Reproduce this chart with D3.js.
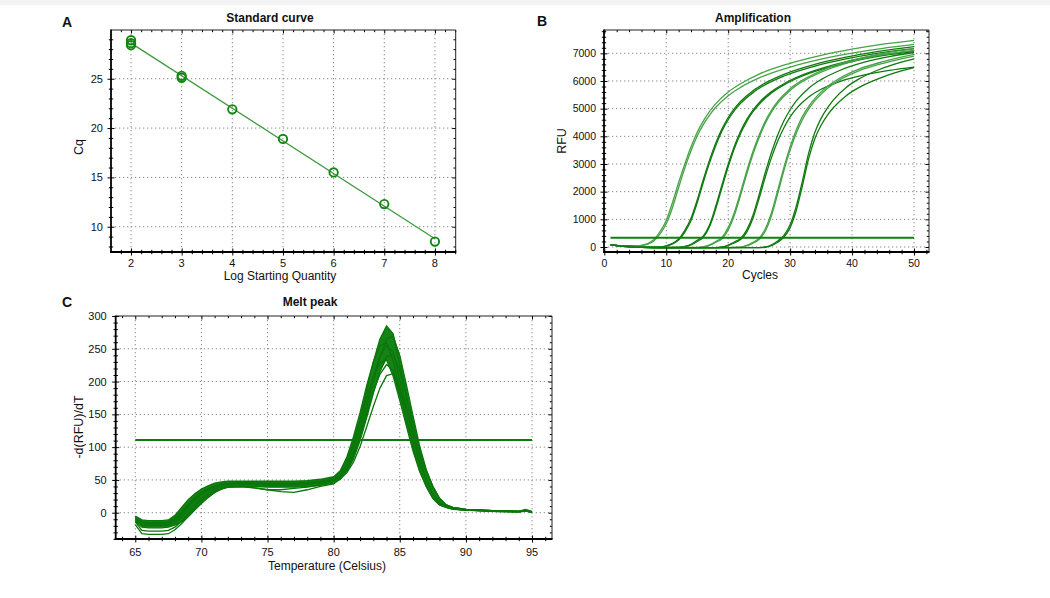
<!DOCTYPE html>
<html><head><meta charset="utf-8">
<script src="https://cdn.jsdelivr.net/npm/d3@7"></script>
<style>
body{margin:0;background:#fff;}
text{font-family:"Liberation Sans",Arial,sans-serif;fill:#111;}
</style></head><body>
<svg id="chart" width="1050" height="598"></svg>
<script>
// ---------- Panel A: standard curve ----------
const stdLogQty = [2, 2, 2, 3, 3, 4, 5, 6, 7, 8];
const stdCq = [28.9, 28.6, 28.4, 25.3, 25.1, 21.9, 18.9, 15.5, 12.3, 8.5];
const stdXTicks = [2, 3, 4, 5, 6, 7, 8];
const stdYTicks = [10, 15, 20, 25];

// ---------- Panel B: amplification ----------
const ampThreshold = 330;
const ampXTicks = [0, 10, 20, 30, 40, 50];
const ampYTicks = [0, 1000, 2000, 3000, 4000, 5000, 6000, 7000];
const ampGroupOfCurve = [0,0,1,1,2,2,3,3,4,4,5,5,6,6];
const ampCurves = [
 [[1,80],[3,45],[5,40],[6,60],[7,120],[8,270],[9,560],[10,960],[11,1600],[12,2330],[13,3000],[14,3620],[15,4150],[16,4560],[17,4900],[18,5180],[20,5600],[22,5900],[25,6250],[30,6640],[35,6930],[40,7150],[45,7330],[50,7470]],
 [[1,85],[3,45],[5,35],[6,50],[7,100],[8,220],[9,470],[10,840],[11,1420],[12,2150],[13,2850],[14,3480],[15,4010],[16,4430],[17,4770],[18,5050],[20,5470],[22,5770],[25,6110],[30,6500],[35,6790],[40,7010],[45,7180],[50,7320]],
 [[1,80],[3,40],[5,15],[7,0],[9,5],[10,40],[11,130],[12,290],[13,600],[14,1040],[15,1700],[16,2450],[17,3150],[18,3760],[19,4270],[20,4680],[21,5000],[22,5260],[24,5650],[26,5930],[29,6240],[34,6600],[39,6860],[44,7060],[50,7240]],
 [[1,75],[3,35],[5,10],[7,-5],[9,0],[10,30],[11,110],[12,250],[13,540],[14,960],[15,1600],[16,2350],[17,3050],[18,3670],[19,4190],[20,4600],[21,4930],[22,5190],[24,5580],[26,5870],[29,6180],[34,6540],[39,6800],[44,7000],[50,7170]],
 [[1,80],[3,35],[6,0],[9,-15],[12,-10],[13,20],[14,100],[15,240],[16,400],[17,800],[18,1480],[19,2250],[20,2990],[21,3640],[22,4180],[23,4610],[24,4950],[25,5220],[27,5620],[29,5900],[32,6220],[37,6580],[42,6840],[46,6990],[50,7100]],
 [[1,75],[3,30],[6,-5],[9,-20],[12,-15],[13,10],[14,80],[15,200],[16,360],[17,740],[18,1380],[19,2150],[20,2900],[21,3560],[22,4100],[23,4540],[24,4890],[25,5160],[27,5570],[29,5860],[32,6180],[37,6540],[42,6800],[46,6950],[50,7060]],
 [[1,80],[3,35],[6,-5],[10,-20],[15,-15],[16,10],[17,80],[18,200],[19,350],[20,700],[21,1250],[22,1980],[23,2750],[24,3450],[25,4050],[26,4550],[27,4950],[28,5260],[30,5720],[32,6030],[35,6370],[40,6750],[45,7000],[50,7160]],
 [[1,75],[3,30],[6,-10],[10,-25],[15,-20],[16,0],[17,60],[18,170],[19,300],[20,620],[21,1150],[22,1870],[23,2640],[24,3350],[25,3960],[26,4470],[27,4880],[28,5200],[30,5660],[32,5980],[35,6320],[40,6700],[45,6950],[50,7100]],
 [[1,80],[3,30],[6,-10],[10,-25],[18,-20],[19,0],[20,70],[21,180],[22,310],[23,620],[24,1150],[25,1900],[26,2700],[27,3430],[28,4050],[29,4560],[30,4960],[31,5280],[33,5740],[35,6050],[38,6380],[42,6680],[46,6880],[50,7030]],
 [[1,75],[3,25],[6,-15],[10,-25],[18,-20],[19,-5],[20,50],[21,150],[22,270],[23,540],[24,1040],[25,1760],[26,2540],[27,3240],[28,3830],[29,4310],[30,4700],[31,5000],[33,5420],[35,5700],[38,5980],[42,6220],[46,6380],[50,6500]],
 [[1,80],[3,30],[6,-10],[10,-25],[20,-20],[22,-5],[23,60],[24,170],[25,320],[26,660],[27,1250],[28,2050],[29,2880],[30,3620],[31,4240],[32,4720],[33,5080],[34,5370],[36,5800],[38,6100],[41,6420],[45,6700],[50,6960]],
 [[1,75],[3,25],[6,-15],[10,-30],[20,-25],[22,-10],[23,40],[24,140],[25,270],[26,580],[27,1140],[28,1930],[29,2760],[30,3500],[31,4120],[32,4610],[33,4990],[34,5290],[36,5730],[38,6040],[41,6360],[45,6640],[50,6900]],
 [[1,80],[3,30],[6,-10],[10,-25],[25,-20],[26,0],[27,80],[28,220],[29,420],[30,800],[31,1480],[32,2400],[33,3400],[34,4150],[35,4650],[36,5020],[37,5320],[39,5760],[41,6060],[44,6380],[47,6620],[50,6800]],
 [[1,75],[3,25],[6,-15],[10,-30],[25,-25],[26,-10],[27,50],[28,170],[29,360],[30,700],[31,1330],[32,2230],[33,3200],[34,3920],[35,4400],[36,4760],[37,5040],[39,5460],[41,5750],[44,6060],[47,6300],[50,6480]]
];

// ---------- Panel C: melt peak ----------
const meltThreshold = 111;
const meltXTicks = [65, 70, 75, 80, 85, 90, 95];
const meltYTicks = [0, 50, 100, 150, 200, 250, 300];
const meltTemps = [65,65.5,66,67,67.5,68,68.5,69,69.5,70,70.5,71,71.5,72,73,74,75,76,77,78,79,
                   80,80.5,81,81.5,82,82.5,83,83.5,84,84.5,85,85.5,86,86.5,87,87.5,88,88.5,89,
                   90,92,94,94.5,95];
const meltCurves = [
 [-6,-14,-15,-15,-14,-8,2,13,23,31,37,41,44,45,46,46,45,45,45,46,48,
  50,58,74,103,142,185,230,265,285,273,224,179,126,83,50,29,15,9,6, 4,3,2,4,1],
 [-10,-19,-20,-20,-19,-15,-7,3,13,22,30,36,40,42,43,43,42,42,42,43,45,
  49,54,65,86,119,158,200,238,265,269,240,195,148,102,66,40,22,12,8, 5,3,2,3,1],
 [-5,-11,-12,-12,-11,-4,8,20,29,36,41,45,47,48,48,48,48,48,48,49,51,
  55,64,85,116,153,194,230,255,259,231,188,144,100,65,40,22,12,8,6, 4,3,2,5,2],
 [-8,-17,-18,-18,-17,-12,-3,8,18,27,34,39,42,43,44,44,43,43,43,44,46,
  50,57,70,96,130,168,207,238,255,245,202,163,117,79,50,29,15,9,6, 4,2,1,3,0],
 [-13,-22,-23,-23,-22,-19,-14,-6,4,14,23,31,36,39,40,40,39,39,39,40,42,
  47,53,63,82,110,145,182,215,238,241,216,177,136,96,64,40,22,12,8, 5,3,2,4,1],
 [-7,-15,-16,-16,-15,-10,0,11,21,30,36,40,43,44,45,45,44,44,44,45,47,
  53,63,81,108,141,176,207,229,233,208,171,132,94,63,40,22,12,8,5, 4,2,1,3,0]
];
const meltOutlierCurves = [
 [-14,-27,-28,-28,-27,-22,-13,-2,9,19,27,33,37,39,40,38,35,32,31,35,40,
  44,52,66,90,119,151,185,211,226,217,180,147,107,75,50,29,15,9,6, 4,3,2,3,1],
 [-18,-32,-33,-33,-32,-26,-17,-6,5,15,24,31,36,39,40,38,35,35,37,39,42,
  45,51,61,77,101,131,162,190,209,212,191,157,123,89,62,40,22,12,8, 5,3,2,4,1]
];

// ---------- drawing ----------
const svg = d3.select('#chart');
svg.append('rect').attr('x',0).attr('y',0).attr('width',1050).attr('height',5).attr('fill','#f3f3f3');

function makePanel(p){
  const x = d3.scaleLinear().domain(p.xd).range([p.l, p.r]);
  const y = d3.scaleLinear().domain(p.yd).range([p.b, p.t]);
  const g = svg.append('g');
  g.append('rect').attr('x',p.l).attr('y',p.t).attr('width',p.r-p.l).attr('height',p.b-p.t).attr('fill','#fff');
  const id = 'clip' + p.name;
  svg.append('clipPath').attr('id',id).append('rect')
    .attr('x',p.l).attr('y',p.t).attr('width',p.r-p.l).attr('height',p.b-p.t);
  const gridStyle = s => s.attr('stroke','#8a8a8a').attr('stroke-width',1).attr('stroke-dasharray','1.3,2.7');
  g.append('g').selectAll('line').data(p.xGrid).join('line')
    .attr('x1',d=>x(d)).attr('x2',d=>x(d)).attr('y1',p.t).attr('y2',p.b).call(gridStyle);
  g.append('g').selectAll('line').data(p.yGrid).join('line')
    .attr('y1',d=>y(d)).attr('y2',d=>y(d)).attr('x1',p.l).attr('x2',p.r).call(gridStyle);
  const plot = g.append('g').attr('clip-path',`url(#${id})`);
  return {x, y, g, plot, p};
}

function tickSet(g, axisFn, scale, vals, size, tr){
  g.append('g').attr('transform', tr)
    .call(axisFn(scale).tickValues(vals).tickSize(size).tickFormat(''))
    .call(s => s.select('.domain').remove())
    .selectAll('line').attr('stroke','#000').attr('stroke-width',1);
}

function finishPanel(P, o){
  const {x, y, g, p} = P;
  const minorX = o.xMinor.filter(v => !o.xMajor.includes(v));
  const minorY = o.yMinor.filter(v => !o.yMajor.includes(v));
  tickSet(g, d3.axisBottom, x, o.xMajor, 3.5, `translate(0,${p.b})`);
  tickSet(g, d3.axisTop, x, o.xMajor, 3.5, `translate(0,${p.b})`);
  tickSet(g, d3.axisBottom, x, minorX, 2.2, `translate(0,${p.b})`);
  tickSet(g, d3.axisTop, x, minorX, 2.2, `translate(0,${p.b})`);
  tickSet(g, d3.axisLeft, y, o.yMajor, 3.5, `translate(${p.l},0)`);
  tickSet(g, d3.axisRight, y, o.yMajor, 3.5, `translate(${p.l},0)`);
  tickSet(g, d3.axisLeft, y, minorY, 2.2, `translate(${p.l},0)`);
  tickSet(g, d3.axisRight, y, minorY, 2.2, `translate(${p.l},0)`);
  tickSet(g, d3.axisBottom, x, o.xMajor, 3.5, `translate(0,${p.t})`);
  tickSet(g, d3.axisBottom, x, minorX, 2.2, `translate(0,${p.t})`);
  tickSet(g, d3.axisLeft, y, o.yMajor, 3.5, `translate(${p.r},0)`);
  tickSet(g, d3.axisLeft, y, minorY, 2.2, `translate(${p.r},0)`);
  g.append('line').attr('x1',p.l).attr('x2',p.r).attr('y1',p.t).attr('y2',p.t).attr('stroke','#222').attr('stroke-width',1);
  g.append('line').attr('x1',p.r).attr('x2',p.r).attr('y1',p.t).attr('y2',p.b).attr('stroke','#222').attr('stroke-width',1);
  g.append('line').attr('x1',p.l).attr('x2',p.l).attr('y1',p.t-0.5).attr('y2',p.b+0.8).attr('stroke','#000').attr('stroke-width',1.8);
  g.append('line').attr('x1',p.l-0.9).attr('x2',p.r+0.5).attr('y1',p.b).attr('y2',p.b).attr('stroke','#000').attr('stroke-width',1.8);
  g.append('g').selectAll('text').data(o.xMajor).join('text')
    .attr('x',d=>x(d)).attr('y',o.xLabelY).attr('text-anchor','middle')
    .attr('font-size',o.tickFont).text(d=>d);
  g.append('g').selectAll('text').data(o.yMajor).join('text')
    .attr('x',p.l-o.yLabelGap).attr('y',d=>y(d)).attr('dy','0.36em').attr('text-anchor','end')
    .attr('font-size',o.tickFont).text(d=>d);
  g.append('text').attr('x',o.titleX).attr('y',o.titleY).attr('text-anchor','middle')
    .attr('font-size',12).attr('font-weight','bold').text(o.title);
  g.append('text').attr('x',o.letterX).attr('y',o.letterY)
    .attr('font-size',14).attr('font-weight','bold').text(o.letter);
  g.append('text').attr('x',o.xTitleX).attr('y',o.xTitleY).attr('text-anchor','middle')
    .attr('font-size',12).text(o.xTitle);
  g.append('text').attr('transform',`translate(${o.yTitleX},${o.yTitleY}) rotate(-90)`)
    .attr('text-anchor','middle').attr('font-size',12.5).text(o.yTitle);
}

// ----- Panel A -----
{
  const P = makePanel({name:'A', l:111, t:30, r:455.7, b:252, xd:[1.605, 8.41], yd:[7.44, 29.94],
                       xGrid: stdXTicks, yGrid: stdYTicks});
  const {x, y, plot} = P;
  const mx = d3.mean(stdLogQty), my = d3.mean(stdCq);
  const sxy = d3.sum(stdLogQty, (v,i) => (v-mx)*(stdCq[i]-my));
  const sxx = d3.sum(stdLogQty, v => (v-mx)*(v-mx));
  const slope = sxy/sxx, icpt = my - slope*mx;
  const ext = d3.extent(stdLogQty);
  plot.append('path').datum(ext.map(v => [v, icpt + slope*v]))
    .attr('d', d3.line().x(d=>x(d[0])).y(d=>y(d[1])))
    .attr('fill','none').attr('stroke','#3a983a').attr('stroke-width',1.2);
  plot.selectAll('circle').data(stdLogQty).join('circle')
    .attr('cx',(d)=>x(d)).attr('cy',(d,i)=>y(stdCq[i])).attr('r',4.2)
    .attr('fill','none').attr('stroke','#118811').attr('stroke-width',1.9);
  finishPanel(P, {
    xMajor: stdXTicks, xMinor: d3.range(1.8, 8.41, 0.2).map(v=>+v.toFixed(1)),
    yMajor: stdYTicks, yMinor: d3.range(8, 29.95, 1),
    xLabelY: 267, yLabelGap: 8, tickFont: 11,
    title: 'Standard curve', titleX: 270, titleY: 22, letter: 'A', letterX: 62, letterY: 27,
    xTitle: 'Log Starting Quantity', xTitleX: 280, xTitleY: 280,
    yTitle: 'Cq', yTitleX: 83, yTitleY: 147
  });
}

// ----- Panel B -----
{
  const P = makePanel({name:'B', l:604, t:30, r:929, b:252, xd:[-0.05, 52.42], yd:[-181, 7843],
                       xGrid: ampXTicks.slice(1), yGrid: ampYTicks});
  const {x, y, plot} = P;
  const lightGroups = new Set([0, 3, 5]);
  const line = d3.line().x(d=>x(d[0])).y(d=>y(d[1])).curve(d3.curveMonotoneX);
  plot.selectAll('path.amp').data(ampCurves).join('path').attr('class','amp')
    .attr('d', line).attr('fill','none')
    .attr('stroke', (d,i) => lightGroups.has(ampGroupOfCurve[i]) ? '#46a346' : '#0f7a0f')
    .attr('stroke-width', 1.3);
  plot.append('line').attr('x1',x(1)).attr('x2',x(50)).attr('y1',y(ampThreshold)).attr('y2',y(ampThreshold))
    .attr('stroke','#117f11').attr('stroke-width',2);
  finishPanel(P, {
    xMajor: ampXTicks, xMinor: d3.range(0, 52.4, 2),
    yMajor: ampYTicks, yMinor: d3.range(0, 7843, 200),
    xLabelY: 267, yLabelGap: 8, tickFont: 10.5,
    title: 'Amplification', titleX: 753, titleY: 22, letter: 'B', letterX: 537, letterY: 26,
    xTitle: 'Cycles', xTitleX: 760, xTitleY: 279,
    yTitle: 'RFU', yTitleX: 566, yTitleY: 141
  });
}

// ----- Panel C -----
{
  const P = makePanel({name:'C', l:115.7, t:316, r:552, b:539, xd:[63.52, 96.51], yd:[-40.1, 300],
                       xGrid: meltXTicks, yGrid: meltYTicks.slice(0, -1)});
  const {x, y, plot} = P;
  const env = meltTemps.map((t,i) => ({t, lo: d3.min(meltCurves, c=>c[i]), hi: d3.max(meltCurves, c=>c[i])}));
  plot.append('path').datum(env)
    .attr('d', d3.area().x(d=>x(d.t)).y0(d=>y(d.lo)).y1(d=>y(d.hi)))
    .attr('fill','#168316').attr('stroke','none');
  const line = d3.line().x((d,i)=>x(meltTemps[i])).y(d=>y(d));
  plot.selectAll('path.melt').data(meltCurves.concat(meltOutlierCurves)).join('path').attr('class','melt')
    .attr('d', line).attr('fill','none').attr('stroke','#0b770b').attr('stroke-width',1.3);
  plot.append('line').attr('x1',x(65)).attr('x2',x(95)).attr('y1',y(meltThreshold)).attr('y2',y(meltThreshold))
    .attr('stroke','#0e7a0e').attr('stroke-width',2);
  finishPanel(P, {
    xMajor: meltXTicks, xMinor: d3.range(64, 96.5, 1),
    yMajor: meltYTicks, yMinor: d3.range(-40, 300.1, 10),
    xLabelY: 556, yLabelGap: 9, tickFont: 11,
    title: 'Melt peak', titleX: 310, titleY: 306, letter: 'C', letterX: 62, letterY: 307,
    xTitle: 'Temperature (Celsius)', xTitleX: 327, xTitleY: 570,
    yTitle: '-d(RFU)/dT', yTitleX: 83, yTitleY: 427
  });
}
</script>
</body></html>
